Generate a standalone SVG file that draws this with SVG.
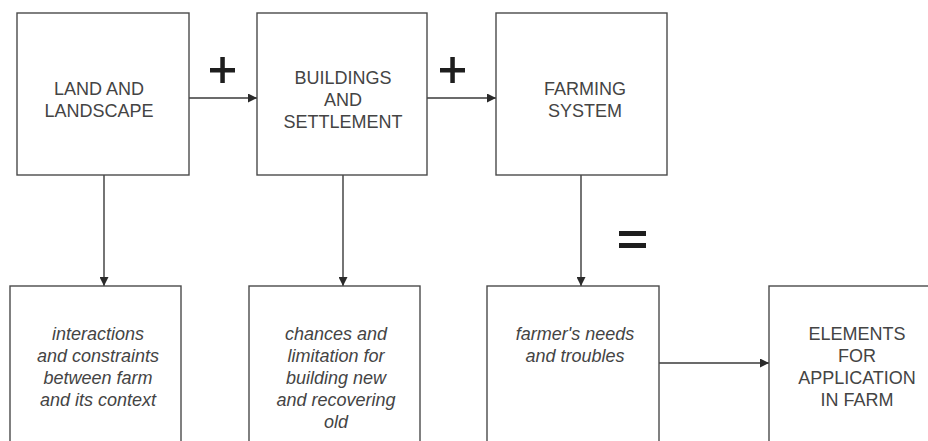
<svg xmlns="http://www.w3.org/2000/svg" width="928" height="441" viewBox="0 0 928 441">
  <style>
    .box { fill: #ffffff; stroke: #4a4a4a; stroke-width: 1.4; }
    .lbl { font-family: "Liberation Sans", Arial, sans-serif; font-size: 18px; fill: #444444; text-anchor: middle; }
    .it { font-style: italic; }
    .edge { stroke: #3a3a3a; stroke-width: 1.4; fill: none; marker-end: url(#arrow); }
    .op { fill: #1e1e1e; }
  </style>
  <defs>
    <marker id="arrow" viewBox="0 0 10 10" refX="10" refY="5" markerWidth="9" markerHeight="9" markerUnits="userSpaceOnUse" orient="auto">
      <path d="M0,0 L10,5 L0,10 Z" fill="#2a2a2a"/>
    </marker>
  </defs>
  <rect width="928" height="441" fill="#ffffff"/>

  <g id="connectors">
    <line class="edge" x1="189" y1="98" x2="257" y2="98"/>
    <line class="edge" x1="427" y1="98" x2="496" y2="98"/>
    <line class="edge" x1="104" y1="175" x2="104" y2="286"/>
    <line class="edge" x1="343" y1="175" x2="343" y2="286"/>
    <line class="edge" x1="581" y1="175" x2="581" y2="286"/>
    <line class="edge" x1="659" y1="363" x2="769" y2="363"/>
  </g>

  <g id="operators">
    <rect class="op" x="210" y="68" width="25" height="4.5"/>
    <rect class="op" x="220.3" y="57" width="4.5" height="26"/>
    <rect class="op" x="440" y="68" width="25" height="4.5"/>
    <rect class="op" x="450.3" y="57" width="4.5" height="26"/>
    <rect class="op" x="619" y="231" width="27" height="5"/>
    <rect class="op" x="619" y="243" width="27" height="5"/>
  </g>

  <g id="land">
    <rect class="box" x="17" y="13" width="172" height="162"/>
    <text class="lbl" x="99" y="95">LAND AND</text>
    <text class="lbl" x="99" y="117">LANDSCAPE</text>
  </g>

  <g id="buildings">
    <rect class="box" x="257" y="13" width="170" height="162"/>
    <text class="lbl" x="343" y="84">BUILDINGS</text>
    <text class="lbl" x="343" y="106">AND</text>
    <text class="lbl" x="343" y="128">SETTLEMENT</text>
  </g>

  <g id="farming">
    <rect class="box" x="496" y="13" width="171" height="162"/>
    <text class="lbl" x="585" y="95">FARMING</text>
    <text class="lbl" x="585" y="117">SYSTEM</text>
  </g>

  <g id="interactions">
    <rect class="box" x="10" y="286" width="171" height="170"/>
    <text class="lbl it" x="98" y="340">interactions</text>
    <text class="lbl it" x="98" y="362">and constraints</text>
    <text class="lbl it" x="98" y="384">between farm</text>
    <text class="lbl it" x="98" y="406">and its context</text>
  </g>

  <g id="chances">
    <rect class="box" x="249" y="286" width="171" height="170"/>
    <text class="lbl it" x="336" y="340">chances and</text>
    <text class="lbl it" x="336" y="362">limitation for</text>
    <text class="lbl it" x="336" y="384">building new</text>
    <text class="lbl it" x="336" y="406">and recovering</text>
    <text class="lbl it" x="336" y="428">old</text>
  </g>

  <g id="needs">
    <rect class="box" x="487" y="286" width="172" height="170"/>
    <text class="lbl it" x="575" y="340">farmer's needs</text>
    <text class="lbl it" x="575" y="362">and troubles</text>
  </g>

  <g id="elements">
    <rect class="box" x="769" y="286" width="175" height="170"/>
    <text class="lbl" x="857" y="340">ELEMENTS</text>
    <text class="lbl" x="857" y="362">FOR</text>
    <text class="lbl" x="857" y="384">APPLICATION</text>
    <text class="lbl" x="857" y="406">IN FARM</text>
  </g>
</svg>
